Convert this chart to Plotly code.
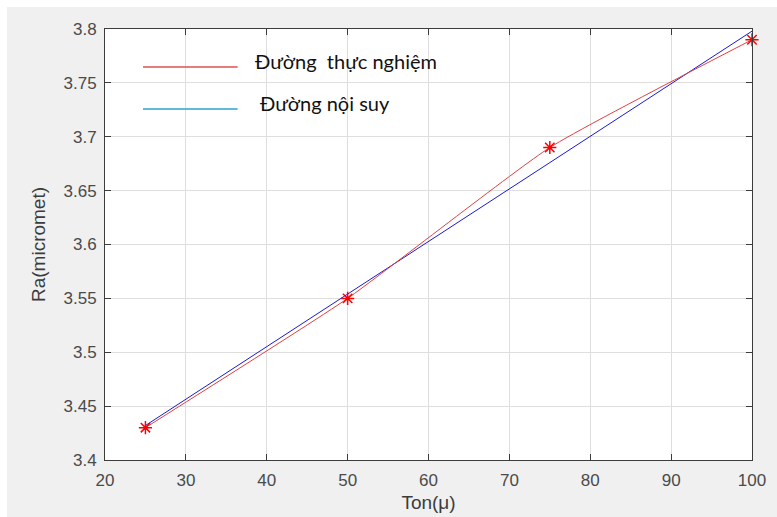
import plotly.graph_objects as go

# Experimental measurements: pulse-on time vs. surface roughness
ton = [25, 50, 75, 100]
ra_measured = [3.43, 3.55, 3.69, 3.79]

# Fitted (interpolated) straight line, end points
ton_fit = [25, 100]
ra_fit = [3.432, 3.798]

x_ticks = [20, 30, 40, 50, 60, 70, 80, 90, 100]
y_ticks = [3.4, 3.45, 3.5, 3.55, 3.6, 3.65, 3.7, 3.75, 3.8]
y_tick_text = ["3.4", "3.45", "3.5", "3.55", "3.6", "3.65", "3.7", "3.75", "3.8"]

legend_labels = ["Đường  thực nghiệm", "Đường nội suy"]

fig = go.Figure()

fig.add_trace(go.Scatter(
    x=ton_fit, y=ra_fit, mode="lines",
    line=dict(color="#1a1ad0", width=1),
    showlegend=False, hoverinfo="skip",
))
fig.add_trace(go.Scatter(
    x=ton, y=ra_measured, mode="lines+markers",
    line=dict(color="#e04040", width=1, shape="spline", smoothing=0.45),
    marker=dict(symbol="asterisk-open", size=11, color="#ff0000",
                line=dict(color="#ff0000", width=1.5)),
    cliponaxis=False, showlegend=False,
))

tick_font = dict(family="Liberation Sans, Arial, sans-serif", size=17, color="#4a4a4a")
title_font = dict(family="Liberation Sans, Arial, sans-serif", size=19, color="#3c3c3c")

axis_common = dict(
    showline=True, mirror="ticks", linecolor="#3c3c3c", linewidth=1,
    ticks="inside", ticklen=6, tickcolor="#3c3c3c",
    showgrid=True, gridcolor="#dedede", gridwidth=1, zeroline=False,
    tickfont=tick_font, automargin=False,
)

fig.update_xaxes(
    range=[20, 100], tickvals=x_ticks, ticklabelstandoff=5,
    title=dict(text="Ton(μ)", standoff=6, font=title_font),
    **axis_common,
)
fig.update_yaxes(
    range=[3.4, 3.8], tickvals=y_ticks, ticktext=y_tick_text, ticklabelstandoff=4,
    title=dict(text="Ra(micromet)", standoff=12, font=title_font),
    **axis_common,
)

# Hand-drawn legend: short line samples with labels
legend_font = dict(family="Lato, Open Sans, sans-serif", size=20, color="#111111")
fig.add_shape(type="line", xref="x", yref="y", x0=24.7, x1=36.4, y0=3.7647, y1=3.7647,
              line=dict(color="#e05050", width=1.5))
fig.add_shape(type="line", xref="x", yref="y", x0=24.7, x1=36.4, y0=3.7258, y1=3.7258,
              line=dict(color="#2aa4cc", width=1.5))
fig.add_annotation(x=38.3, y=3.7705, xref="x", yref="y", text=legend_labels[0],
                   showarrow=False, xanchor="left", yanchor="middle", font=legend_font)
fig.add_annotation(x=38.9, y=3.731, xref="x", yref="y", text=legend_labels[1],
                   showarrow=False, xanchor="left", yanchor="middle", font=legend_font)

# Window frame: white strip at top and left of the grey figure background
fig.add_shape(type="rect", xref="paper", yref="paper", x0=-0.3, x1=1.2, y0=1.051, y1=1.3,
              line=dict(width=0), fillcolor="white", layer="below")
fig.add_shape(type="rect", xref="paper", yref="paper", x0=-0.3, x1=-0.1515, y0=-0.3, y1=1.3,
              line=dict(width=0), fillcolor="white", layer="below")

fig.update_layout(
    width=777, height=517,
    margin=dict(l=105, r=25, t=29, b=57),
    paper_bgcolor="#f0f0f0", plot_bgcolor="white",
    showlegend=False,
)

fig.write_html("out.html")
